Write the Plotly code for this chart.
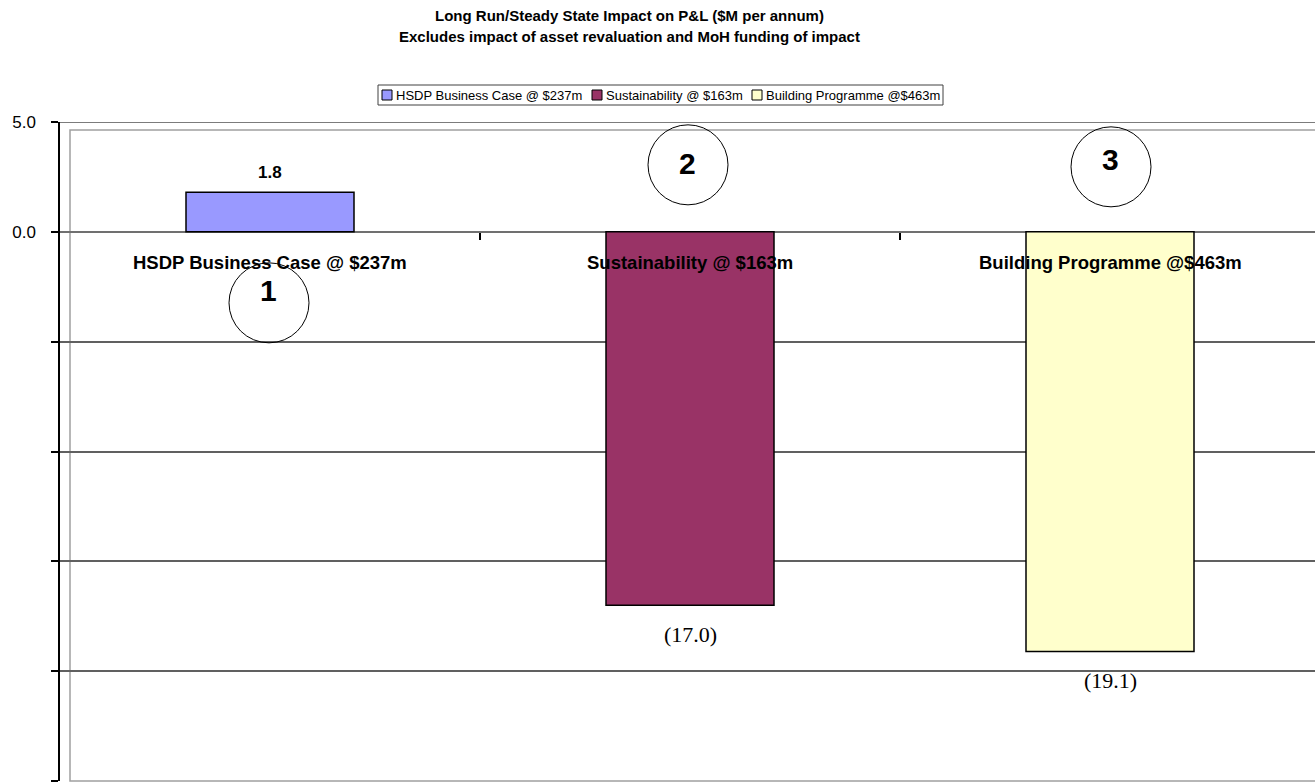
import plotly.graph_objects as go

# ---- data ----
categories = ["HSDP Business Case @ $237m", "Sustainability @ $163m", "Building Programme @$463m"]
values = [1.8, -17.0, -19.1]
colors = ["#9999FF", "#993366", "#FFFFCC"]
circle_numbers = ["1", "2", "3"]
y_tickvals = [5, 0, -5, -10, -15, -20, -25]
y_ticktext = ["5.0", "0.0", "", "", "", "", ""]
title_lines = ["Long Run/Steady State Impact on P&L ($M per annum)",
               "Excludes impact of asset revaluation and MoH funding of impact"]

# ---- layout geometry (pixels) ----
FIG_W, FIG_H = 1315, 782
ML, MR, MT, MB = 60, 0, 122, 1
PW = FIG_W - ML - MR
PH = FIG_H - MT - MB
Y_MIN, Y_MAX = -25, 5
CAT_PX = 420  # pixel width of one category


def pxx(x):
    return (x - ML) / PW


def pxy(y):
    return (FIG_H - MB - y) / PH


def fmt(v):
    return f"{v:.1f}" if v >= 0 else f"({abs(v):.1f})"


x_pos = list(range(len(categories)))

fig = go.Figure()
fig.add_trace(go.Bar(
    x=x_pos, y=values, width=0.4,
    marker=dict(color=colors, line=dict(color="black", width=1.5)),
    showlegend=False, hoverinfo="skip",
))

SANS = "Liberation Sans, Arial, sans-serif"
SERIF = "Liberation Serif, Times New Roman, serif"

annotations = []
# category labels under the zero line
for i, c in enumerate(categories):
    annotations.append(dict(x=i, y=0, xref="x", yref="y", yshift=-31, text=f"<b>{c}</b>",
                            showarrow=False, font=dict(family=SANS, size=18.5, color="black"),
                            xanchor="center", yanchor="middle"))
# value labels
for i, v in enumerate(values):
    if v >= 0:
        annotations.append(dict(x=i, y=v, xref="x", yref="y", yshift=20, text=f"<b>{fmt(v)}</b>",
                                showarrow=False, font=dict(family=SANS, size=17, color="black"),
                                xanchor="center", yanchor="middle"))
    else:
        annotations.append(dict(x=i, y=v, xref="x", yref="y", yshift=-29, text=fmt(v),
                                showarrow=False, font=dict(family=SERIF, size=22, color="black"),
                                xanchor="center", yanchor="middle"))

# numbered circles (pixel offsets from category centre / zero line)
circle_offsets = [(-1, -71), (-2, 67), (1, 65)]   # centre offsets (dx, dy up)
number_offsets = [(-2, -59), (-3, 68), (0, 72)]
R = 40
shapes = []
for i, (dx, dy) in enumerate(circle_offsets):
    shapes.append(dict(type="circle", xref="x", yref="y", xsizemode="pixel", ysizemode="pixel",
                       xanchor=i, yanchor=0, x0=dx - R, x1=dx + R, y0=dy - R, y1=dy + R,
                       line=dict(color="black", width=1), fillcolor="rgba(0,0,0,0)", layer="above"))
for i, (dx, dy) in enumerate(number_offsets):
    annotations.append(dict(x=i, y=0, xref="x", yref="y", xshift=dx, yshift=dy,
                            text=f"<b>{circle_numbers[i]}</b>", showarrow=False,
                            font=dict(family=SANS, size=30, color="black"),
                            xanchor="center", yanchor="middle"))

# title
for k, (line, ypx) in enumerate(zip(title_lines, [16, 37])):
    annotations.append(dict(x=pxx(629), y=pxy(ypx), xref="paper", yref="paper", text=f"<b>{line}</b>",
                            showarrow=False, font=dict(family=SANS, size=15, color="black"),
                            xanchor="center", yanchor="middle"))

# inner plot-area frame
shapes.append(dict(type="rect", xref="paper", yref="paper", x0=pxx(70), x1=1.05, y0=pxy(781), y1=pxy(130),
                   line=dict(color="#A0A0A0", width=1.5), fillcolor="rgba(0,0,0,0)", layer="below"))
# top line at 5.0
shapes.append(dict(type="line", xref="paper", yref="y", x0=0, x1=1, y0=Y_MAX, y1=Y_MAX,
                   line=dict(color="#505050", width=1.5), layer="below"))

# custom legend
LEG_X0, LEG_X1, LEG_Y0, LEG_Y1 = 378, 943, 85, 105
shapes.append(dict(type="rect", xref="paper", yref="paper", x0=pxx(LEG_X0), x1=pxx(LEG_X1),
                   y0=pxy(LEG_Y1), y1=pxy(LEG_Y0), line=dict(color="#404040", width=1),
                   fillcolor="white", layer="above"))
leg_square_x = [382, 592, 752]
for i, c in enumerate(categories):
    sx = leg_square_x[i]
    shapes.append(dict(type="rect", xref="paper", yref="paper", x0=pxx(sx), x1=pxx(sx + 10),
                       y0=pxy(100), y1=pxy(90), line=dict(color="black", width=1),
                       fillcolor=colors[i], layer="above"))
    annotations.append(dict(x=pxx(sx + 12), y=pxy(95), xref="paper", yref="paper", text=c,
                            showarrow=False, font=dict(family=SANS, size=13, color="black"),
                            xanchor="left", yanchor="middle"))

fig.update_layout(
    width=FIG_W, height=FIG_H,
    margin=dict(l=ML, r=MR, t=MT, b=MB, pad=0),
    paper_bgcolor="white", plot_bgcolor="white",
    showlegend=False,
    xaxis=dict(range=[-0.5, -0.5 + PW / CAT_PX], anchor="free",
               position=(0 - Y_MIN) / (Y_MAX - Y_MIN),
               tickvals=[0.5, 1.5, 2.5], ticks="outside", ticklen=7, tickwidth=1.5, tickcolor="black",
               showticklabels=False, showgrid=False, zeroline=False, showline=False, fixedrange=True),
    yaxis=dict(range=[Y_MIN, Y_MAX], tickvals=y_tickvals, ticktext=y_ticktext,
               ticks="outside", ticklen=7, tickwidth=1.5, tickcolor="black",
               showline=True, linecolor="black", linewidth=1.5,
               showgrid=True, gridcolor="#606060", gridwidth=1.5,
               zeroline=True, zerolinecolor="#707070", zerolinewidth=1.5,
               tickfont=dict(family=SANS, size=17, color="black"), ticklabelstandoff=12,
               fixedrange=True),
    annotations=annotations,
    shapes=shapes,
)

fig.write_html("out.html")
